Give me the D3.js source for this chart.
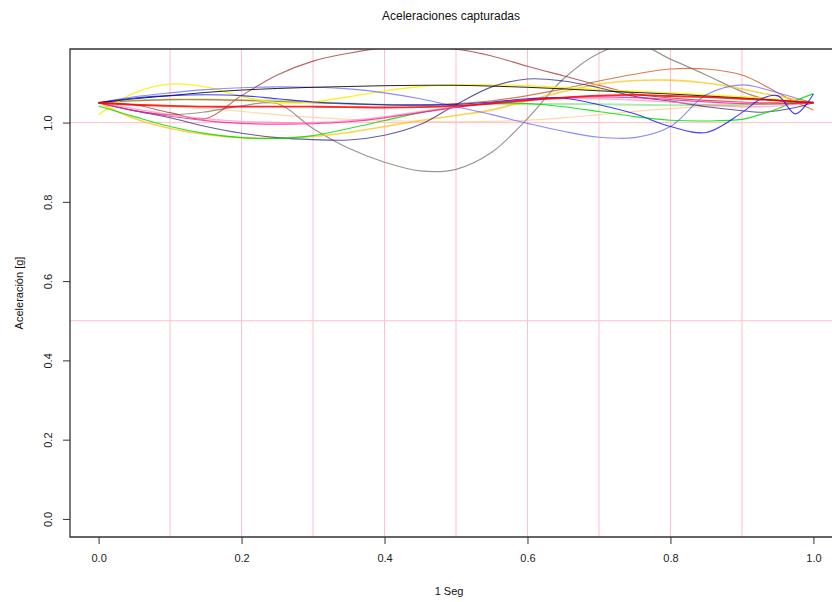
<!DOCTYPE html>
<html>
<head>
<meta charset="utf-8">
<script src="https://cdn.jsdelivr.net/npm/d3@7"></script>
<style>
  html, body { margin: 0; padding: 0; background: #fff; }
  svg { display: block; font-family: "Liberation Sans", Arial, sans-serif; }
</style>
</head>
<body>
<svg id="chart" width="832" height="602"></svg>
<script>
// Sample instants (seconds) shared by every captured trace
const tiempos = [0, 0.05, 0.1, 0.15, 0.2, 0.25, 0.3, 0.35, 0.4, 0.45, 0.5, 0.55,
                 0.6, 0.65, 0.7, 0.75, 0.8, 0.85, 0.9, 0.925, 0.95, 0.975, 1.0];

// Captured acceleration traces [g]
const negro      = [1.05, 1.06, 1.068, 1.076, 1.082, 1.086, 1.089, 1.091, 1.093, 1.094, 1.094, 1.092, 1.089, 1.085, 1.08, 1.076, 1.072, 1.067, 1.062, 1.059, 1.056, 1.053, 1.05];
const amarillo   = [1.02, 1.075, 1.097, 1.09, 1.066, 1.05, 1.052, 1.065, 1.08, 1.091, 1.095, 1.095, 1.093, 1.088, 1.083, 1.079, 1.075, 1.07, 1.065, 1.062, 1.058, 1.054, 1.05];
const gris       = [1.05, 1.03, 1.02, 1.027, 1.042, 1.048, 0.985, 0.935, 0.9, 0.878, 0.882, 0.925, 1.01, 1.11, 1.175, 1.2, 1.16, 1.12, 1.078, 1.063, 1.055, 1.05, 1.05];
const marron     = [1.05, 1.045, 1.025, 1.01, 1.068, 1.12, 1.155, 1.175, 1.188, 1.19, 1.185, 1.168, 1.142, 1.118, 1.094, 1.072, 1.062, 1.056, 1.052, 1.05, 1.05, 1.048, 1.05];
const siena      = [1.05, 1.055, 1.058, 1.058, 1.056, 1.053, 1.05, 1.047, 1.045, 1.045, 1.048, 1.055, 1.068, 1.085, 1.105, 1.122, 1.135, 1.135, 1.12, 1.1, 1.075, 1.052, 1.032];
const lila       = [1.05, 1.065, 1.075, 1.083, 1.088, 1.09, 1.089, 1.085, 1.075, 1.06, 1.04, 1.02, 0.998, 0.978, 0.963, 0.962, 0.99, 1.07, 1.095, 1.088, 1.075, 1.062, 1.05];
const azul       = [1.05, 1.062, 1.068, 1.07, 1.068, 1.06, 1.052, 1.048, 1.045, 1.044, 1.046, 1.052, 1.06, 1.062, 1.045, 1.022, 0.99, 0.975, 1.025, 1.058, 1.068, 1.022, 1.072];
const verde      = [1.042, 1.015, 0.99, 0.972, 0.962, 0.96, 0.967, 0.985, 1.005, 1.025, 1.04, 1.048, 1.048, 1.04, 1.028, 1.015, 1.006, 1.004, 1.008, 1.02, 1.035, 1.055, 1.073];
const verdeClaro = [1.05, 1.055, 1.058, 1.058, 1.057, 1.055, 1.052, 1.048, 1.045, 1.044, 1.045, 1.046, 1.047, 1.047, 1.046, 1.045, 1.044, 1.044, 1.045, 1.046, 1.048, 1.05, 1.052];
const rojo       = [1.05, 1.045, 1.042, 1.04, 1.04, 1.04, 1.04, 1.039, 1.038, 1.039, 1.042, 1.048, 1.056, 1.063, 1.068, 1.07, 1.067, 1.064, 1.06, 1.058, 1.056, 1.053, 1.05];
const rosaFuerte = [1.05, 1.03, 1.016, 1.005, 0.998, 0.996, 0.997, 1.002, 1.012, 1.025, 1.038, 1.05, 1.058, 1.063, 1.065, 1.063, 1.058, 1.052, 1.048, 1.047, 1.047, 1.048, 1.05];
const rosa       = [1.05, 1.035, 1.02, 1.01, 1.003, 1.0, 1.0, 1.005, 1.015, 1.028, 1.04, 1.05, 1.057, 1.06, 1.06, 1.057, 1.052, 1.045, 1.04, 1.04, 1.042, 1.046, 1.05];
const dorado     = [1.05, 1.01, 0.985, 0.97, 0.962, 0.961, 0.965, 0.975, 0.99, 1.005, 1.018, 1.032, 1.055, 1.078, 1.097, 1.106, 1.107, 1.1, 1.085, 1.075, 1.067, 1.058, 1.05];
const melocoton  = [1.05, 1.045, 1.04, 1.035, 1.028, 1.02, 1.013, 1.008, 1.005, 1.003, 1.002, 1.003, 1.006, 1.012, 1.02, 1.028, 1.035, 1.04, 1.044, 1.046, 1.048, 1.05, 1.05];
const marino     = [1.05, 1.03, 1.012, 0.99, 0.973, 0.962, 0.957, 0.956, 0.968, 0.995, 1.045, 1.09, 1.11, 1.105, 1.088, 1.066, 1.054, 1.04, 1.03, 1.026, 1.03, 1.038, 1.05];

// Tick labels
const xTicks = [0, 0.2, 0.4, 0.6, 0.8, 1.0];
const yTicks = [0, 0.2, 0.4, 0.6, 0.8, 1.0];
const xGuias = [0.1, 0.2, 0.3, 0.4, 0.5, 0.6, 0.7, 0.8, 0.9];
const yGuias = [0.5, 1.0];

// Traces with their drawing style
const series = [
  { v: melocoton,  color: "#ffcf9a", w: 1.2, o: 0.8 },
  { v: verdeClaro, color: "#6fe36f", w: 2.0, o: 0.6 },
  { v: gris,       color: "#8f8c86", w: 1.2, o: 0.9 },
  { v: marron,     color: "#a03030", w: 1.1, o: 0.75 },
  { v: siena,      color: "#c8601e", w: 1.1, o: 0.8 },
  { v: dorado,     color: "#ffc21a", w: 1.6, o: 0.75 },
  { v: amarillo,   color: "#ffee00", w: 1.4, o: 0.85 },
  { v: lila,       color: "#5a5aff", w: 1.1, o: 0.7 },
  { v: marino,     color: "#2a2a80", w: 1.1, o: 0.75 },
  { v: verde,      color: "#00dd00", w: 1.1, o: 0.85 },
  { v: rosa,       color: "#ff7ab8", w: 1.4, o: 0.6 },
  { v: rosaFuerte, color: "#ff1493", w: 1.2, o: 0.8 },
  { v: negro,      color: "#000000", w: 1.0, o: 0.85 },
  { v: azul,       color: "#0000ff", w: 1.1, o: 0.75 },
  { v: rojo,       color: "#ff0000", w: 1.8, o: 0.85 }
];

const svg = d3.select("#chart");
const mLeft = 70, mTop = 49, mBottom = 537, mRight = 842;

const x = d3.scaleLinear().domain([-0.04, 1.04]).range([mLeft, mRight]);
const y = d3.scaleLinear().domain([-0.0456, 1.1856]).range([mBottom, mTop]);

svg.append("defs").append("clipPath").attr("id", "area")
  .append("rect").attr("x", mLeft).attr("y", mTop)
  .attr("width", mRight - mLeft).attr("height", mBottom - mTop);

// Guide lines
const guias = svg.append("g");
guias.selectAll("line.v").data(xGuias).join("line").attr("class", "v")
  .attr("x1", d => x(d)).attr("x2", d => x(d))
  .attr("y1", mTop).attr("y2", mBottom)
  .attr("stroke", "#ffc0cb").attr("stroke-width", 1);
guias.selectAll("line.h").data(yGuias).join("line").attr("class", "h")
  .attr("y1", d => y(d)).attr("y2", d => y(d))
  .attr("x1", mLeft).attr("x2", mRight)
  .attr("stroke", "#ffc0cb").attr("stroke-width", 1);

// Traces
const linea = d3.line()
  .x((d, i) => x(tiempos[i]))
  .y(d => y(d))
  .curve(d3.curveCatmullRom.alpha(0.5));

svg.append("g").attr("clip-path", "url(#area)")
  .selectAll("path").data(series).join("path")
  .attr("d", s => linea(s.v))
  .attr("fill", "none")
  .attr("stroke", s => s.color)
  .attr("stroke-width", s => s.w)
  .attr("stroke-opacity", s => s.o);

// Plot frame
svg.append("path")
  .attr("d", `M${mRight},${mTop}H${mLeft}V${mBottom}H${mRight}`)
  .attr("fill", "none").attr("stroke", "#333").attr("stroke-width", 1.3);

// Axes
const ejeX = svg.append("g").attr("transform", `translate(0,${mBottom})`)
  .call(d3.axisBottom(x).tickValues(xTicks).tickFormat(d3.format(".1f")).tickSize(7).tickPadding(10));
ejeX.select(".domain").remove();
ejeX.selectAll("line").attr("stroke", "#333");
ejeX.selectAll("text").attr("font-size", 11).attr("fill", "#222");

const ejeY = svg.append("g").attr("transform", `translate(${mLeft},0)`)
  .call(d3.axisLeft(y).tickValues(yTicks).tickFormat(d3.format(".1f")).tickSize(7));
ejeY.select(".domain").remove();
ejeY.selectAll("line").attr("stroke", "#333");
ejeY.selectAll(".tick text")
  .attr("font-size", 11).attr("fill", "#222")
  .attr("text-anchor", "middle")
  .attr("x", null).attr("dy", null).attr("y", null)
  .attr("transform", "translate(-18,0) rotate(-90)");

// Titles
svg.append("text").attr("x", 451).attr("y", 20).attr("text-anchor", "middle")
  .attr("font-size", 12).attr("fill", "#111").text("Aceleraciones capturadas");
svg.append("text").attr("x", 449).attr("y", 595).attr("text-anchor", "middle")
  .attr("font-size", 11).attr("fill", "#111").text("1 Seg");
svg.append("text").attr("transform", "translate(23,293) rotate(-90)").attr("text-anchor", "middle")
  .attr("font-size", 11).attr("fill", "#111").text("Aceleración [g]");
</script>
</body>
</html>
